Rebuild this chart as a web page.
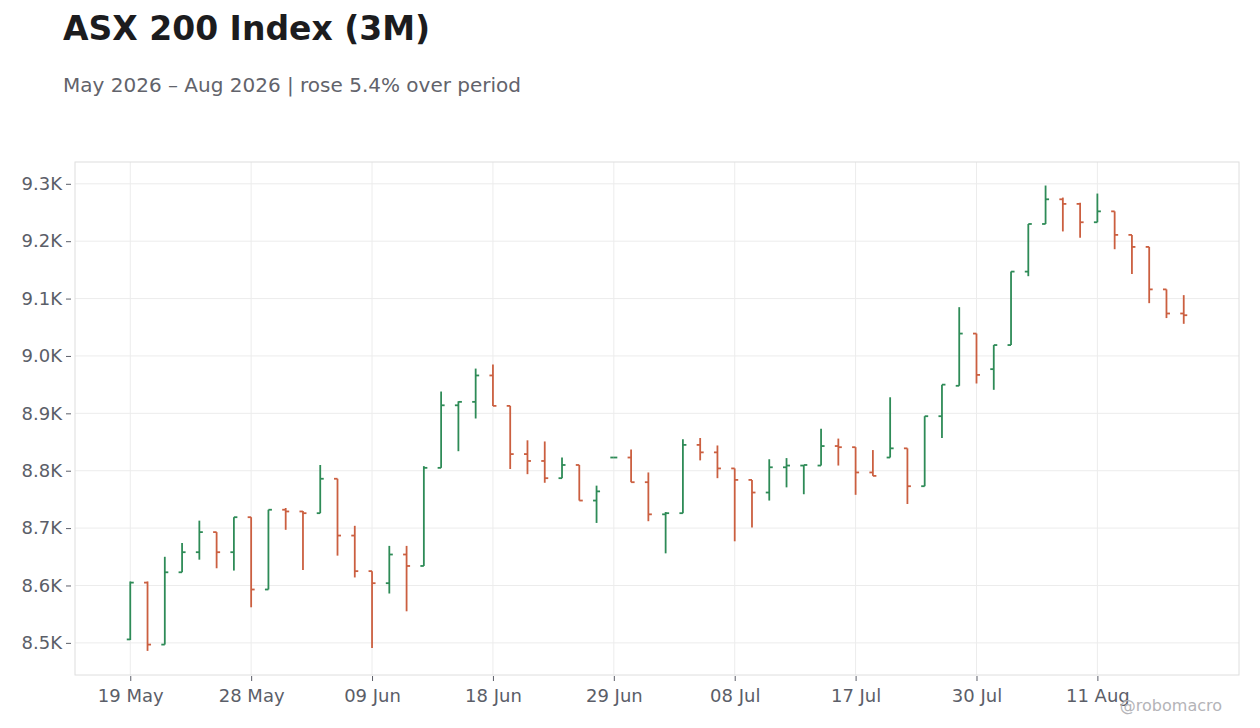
<!DOCTYPE html>
<html>
<head>
<meta charset="utf-8">
<script src="https://cdn.jsdelivr.net/npm/d3@7"></script>
<style>
  body { margin: 0; background: #fff; }
  text { font-family: 'DejaVu Sans', sans-serif; }
</style>
</head>
<body>
<div id="chart"></div>
<script>
////////////////////////////////////////////////////////////////////////
// Data: one entry per trading day

let dates = [
  '19 May', '20 May', '21 May', '22 May', '25 May', '26 May', '27 May', '28 May',
  '29 May', '01 Jun', '02 Jun', '03 Jun', '04 Jun', '05 Jun', '09 Jun', '10 Jun',
  '11 Jun', '12 Jun', '15 Jun', '16 Jun', '17 Jun', '18 Jun', '19 Jun', '22 Jun',
  '23 Jun', '24 Jun', '25 Jun', '26 Jun', '29 Jun', '30 Jun', '01 Jul', '02 Jul',
  '03 Jul', '06 Jul', '07 Jul', '08 Jul', '09 Jul', '10 Jul', '13 Jul', '14 Jul',
  '15 Jul', '16 Jul', '17 Jul', '20 Jul', '21 Jul', '23 Jul', '24 Jul', '28 Jul',
  '29 Jul', '30 Jul', '31 Jul', '03 Aug', '04 Aug', '06 Aug', '07 Aug', '10 Aug',
  '11 Aug', '12 Aug', '13 Aug', '14 Aug', '17 Aug', '18 Aug'
]

let opens = [
  8506, 8605, 8497, 8623, 8658, 8693, 8658, 8719, 8593, 8732, 8729, 8726, 8786,
  8687, 8625, 8604, 8654, 8634, 8805, 8914, 8920, 8966, 8913, 8829, 8817, 8787,
  8810, 8748, 8823, 8823, 8780, 8724, 8726, 8845, 8832, 8804, 8784, 8762, 8806,
  8809, 8809, 8843, 8841, 8797, 8823, 8839, 8773, 8895, 8948, 9039, 8977, 9019,
  9147, 9230, 9273, 9265, 9233, 9252, 9211, 9190, 9116, 9074
]

let highs = [
  8607, 8607, 8650, 8674, 8713, 8693, 8719, 8719, 8732, 8735, 8730, 8810, 8786,
  8704, 8625, 8669, 8669, 8808, 8938, 8921, 8978, 8985, 8913, 8853, 8851, 8823,
  8810, 8774, 8823, 8837, 8797, 8728, 8855, 8857, 8844, 8804, 8784, 8820, 8822,
  8810, 8873, 8856, 8841, 8836, 8928, 8839, 8895, 8950, 9085, 9039, 9019, 9147,
  9230, 9297, 9276, 9267, 9283, 9252, 9211, 9190, 9116, 9106
]

let lows = [
  8505, 8486, 8497, 8623, 8645, 8630, 8626, 8562, 8593, 8697, 8627, 8726, 8652,
  8614, 8491, 8586, 8555, 8634, 8805, 8834, 8891, 8913, 8803, 8794, 8779, 8787,
  8748, 8709, 8823, 8780, 8712, 8656, 8726, 8818, 8787, 8677, 8701, 8748, 8771,
  8759, 8809, 8809, 8758, 8791, 8823, 8742, 8773, 8857, 8948, 8952, 8941, 9019,
  9139, 9230, 9217, 9206, 9233, 9186, 9143, 9092, 9066, 9056
]

let closes = [
  8605, 8497, 8623, 8658, 8693, 8658, 8719, 8593, 8732, 8729, 8726, 8786, 8687,
  8625, 8604, 8654, 8634, 8805, 8914, 8920, 8966, 8913, 8829, 8817, 8787, 8810,
  8748, 8764, 8823, 8780, 8724, 8726, 8845, 8832, 8804, 8784, 8762, 8806, 8809,
  8810, 8843, 8841, 8797, 8791, 8839, 8773, 8895, 8950, 9039, 8967, 9019, 9147,
  9230, 9273, 9265, 9233, 9252, 9211, 9190, 9116, 9074, 9071
]

let yTicks = [8500, 8600, 8700, 8800, 8900, 9000, 9100, 9200, 9300]

let data = dates.map(function (d, i) {
  return { date: d, open: opens[i], high: highs[i], low: lows[i], close: closes[i] }
})

////////////////////////////////////////////////////////////////////////
// svg and plot area

let width = 1260
let height = 728
let plot = { left: 75, right: 1239, top: 162, bottom: 675 }

let upColor = '#2e8b57'
let downColor = '#cb5f40'

let svg = d3
  .select('#chart')
  .append('svg')
  .attr('width', width)
  .attr('height', height)

let xScale = d3
  .scalePoint()
  .domain(dates)
  .range([plot.left, plot.right])
  .padding(3.2)

let yScale = d3
  .scaleLinear()
  .domain([8444, 9338])
  .range([plot.bottom, plot.top])

// every 7th trading day gets a label
let xTicks = dates.filter((d, i) => i % 7 === 0)

////////////////////////////////////////////////////////////////////////
// title + subtitle

svg
  .append('text')
  .attr('x', 63)
  .attr('y', 40)
  .attr('font-size', 33)
  .attr('font-weight', 'bold')
  .attr('fill', '#1c1c1e')
  .text('ASX 200 Index (3M)')

svg
  .append('text')
  .attr('x', 63)
  .attr('y', 92)
  .attr('font-size', 20)
  .attr('fill', '#62636b')
  .text('May 2026 – Aug 2026 | rose 5.4% over period')

////////////////////////////////////////////////////////////////////////
// grid lines

svg
  .append('g')
  .selectAll('line')
  .data(yTicks)
  .enter()
  .append('line')
  .attr('x1', plot.left)
  .attr('x2', plot.right)
  .attr('y1', d => yScale(d))
  .attr('y2', d => yScale(d))
  .attr('stroke', '#ececec')

svg
  .append('g')
  .selectAll('line')
  .data(xTicks)
  .enter()
  .append('line')
  .attr('x1', d => xScale(d))
  .attr('x2', d => xScale(d))
  .attr('y1', plot.top)
  .attr('y2', plot.bottom)
  .attr('stroke', '#ececec')

// frame
svg
  .append('rect')
  .attr('x', plot.left)
  .attr('y', plot.top)
  .attr('width', plot.right - plot.left)
  .attr('height', plot.bottom - plot.top)
  .attr('fill', 'none')
  .attr('stroke', '#dedede')

////////////////////////////////////////////////////////////////////////
// axes

let yAxis = d3
  .axisLeft(yScale)
  .tickValues(yTicks)
  .tickSize(5)
  .tickPadding(4)
  .tickFormat(d => (d / 1000).toFixed(1) + 'K')

svg
  .append('g')
  .attr('transform', 'translate(' + (plot.left - 4) + ',0)')
  .call(yAxis)
  .call(g => g.select('.domain').remove())
  .call(g => g.selectAll('line').attr('stroke', '#5b5e68'))
  .call(g =>
    g
      .selectAll('text')
      .attr('font-size', 18)
      .attr('fill', '#5b5e68')
      .style('font-family', 'DejaVu Sans')
  )

let xAxis = d3
  .axisBottom(xScale)
  .tickValues(xTicks)
  .tickSize(5)
  .tickPadding(8)

svg
  .append('g')
  .attr('transform', 'translate(0,' + (plot.bottom + 1) + ')')
  .call(xAxis)
  .call(g => g.select('.domain').remove())
  .call(g => g.selectAll('line').attr('stroke', '#5b5e68'))
  .call(g =>
    g
      .selectAll('text')
      .attr('font-size', 18)
      .attr('fill', '#5b5e68')
      .style('font-family', 'DejaVu Sans')
  )

////////////////////////////////////////////////////////////////////////
// OHLC bars: high-low stem, open tick left, close tick right

let tickLen = 3.5

let bars = svg
  .append('g')
  .selectAll('.bar')
  .data(data)
  .enter()
  .append('g')
  .attr('class', 'bar')
  .attr('stroke', d => (d.close >= d.open ? upColor : downColor))
  .attr('stroke-width', 1.8)

bars
  .append('line')
  .attr('x1', d => xScale(d.date))
  .attr('x2', d => xScale(d.date))
  .attr('y1', d => yScale(d.high))
  .attr('y2', d => yScale(d.low))

bars
  .append('line')
  .attr('x1', d => xScale(d.date) - tickLen)
  .attr('x2', d => xScale(d.date))
  .attr('y1', d => yScale(d.open))
  .attr('y2', d => yScale(d.open))

bars
  .append('line')
  .attr('x1', d => xScale(d.date))
  .attr('x2', d => xScale(d.date) + tickLen)
  .attr('y1', d => yScale(d.close))
  .attr('y2', d => yScale(d.close))

// watermark
svg
  .append('text')
  .attr('x', 1222)
  .attr('y', 711)
  .attr('text-anchor', 'end')
  .attr('font-size', 16)
  .attr('fill', '#b4b4b8')
  .text('@robomacro')
</script>
</body>
</html>
